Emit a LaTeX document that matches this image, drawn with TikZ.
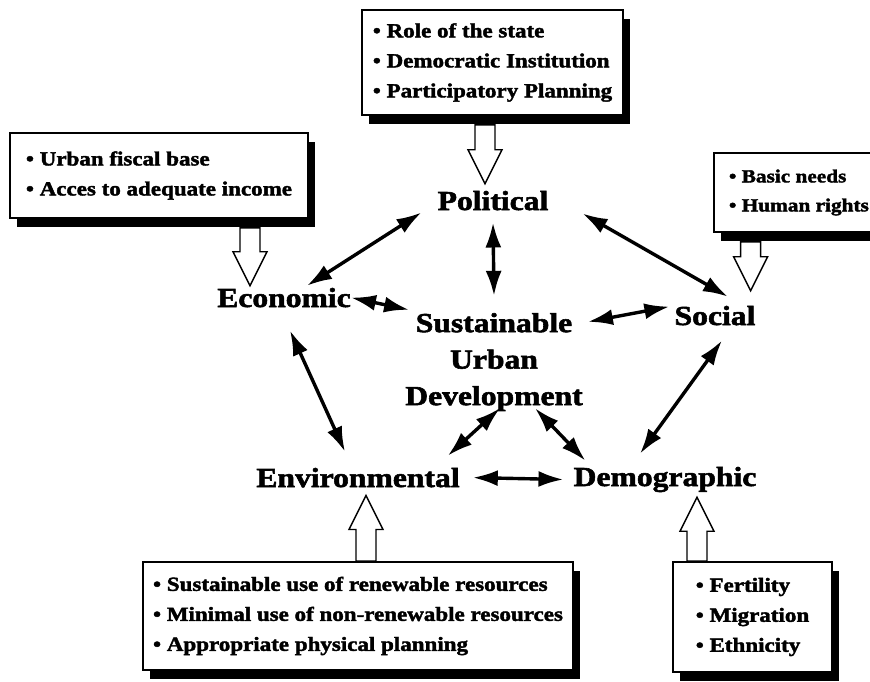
\documentclass[tikz,border=0pt]{standalone}
\usepackage{fontspec}
\setmainfont[FakeStretch=1.15, BoldFeatures={FakeBold=2}]{Liberation Serif}
\usetikzlibrary{arrows.meta,calc,shadows}

% hollow block arrow: #1 = edge of a box (only its y is used), #2 = tip
\newcommand\blockarrow[2]{%
  \draw[block] let \p1=(#1), \p2=(#2), \n1={ifthenelse(\y1>\y2,34,-34)} in
    (\x2-10pt,\y1) -- (\x2-10pt,{\y2+\n1*1pt}) -- (\x2-17pt,{\y2+\n1*1pt}) -- (\p2)
    -- (\x2+17pt,{\y2+\n1*1pt}) -- (\x2+10pt,{\y2+\n1*1pt}) -- (\x2+10pt,\y1) -- cycle;}

\begin{document}
\begin{tikzpicture}[x=1pt,y=-1pt,
  lbl/.style={inner sep=0pt, font=\bfseries\fontsize{27.5}{36.5}\selectfont},
  box/.style={draw, line width=1.8pt, fill=white, align=left, inner sep=4pt,
    font=\bfseries\fontsize{20}{30}\selectfont,
    drop shadow={shadow xshift=7pt, shadow yshift=-9pt, fill=black, opacity=1}},
  dbl/.style={line width=3.4pt, {Latex[length=25pt,width=16pt]}-{Latex[length=25pt,width=16pt]}},
  block/.style={line width=1.4pt, fill=white, line join=miter}]
\useasboundingbox[fill=white] (0,0) rectangle (870,681);

% the five dimensions round the centre
\node[lbl, anchor=base] (pol) at (493,210) {Political};
\node[lbl, anchor=base] (eco) at (284,307) {Economic};
\node[lbl, anchor=base] (soc) at (715,325) {Social};
\node[lbl, align=center] (sud) at (494,362) {Sustainable\\Urban\\Development};
\node[lbl, anchor=base] (env) at (358,487) {Environmental};
\node[lbl, anchor=base] (dem) at (665,486) {Demographic};

% boxes of issues
\node[box, minimum width=261pt, minimum height=105pt] (polbox) at (492.5,62.5)
  {\textbullet\ Role of the state\\ \textbullet\ Democratic Institution\\ \textbullet\ Participatory Planning};
\node[box, minimum width=298pt, minimum height=85pt] (ecobox) at (159,175.5)
  {\textbullet\ Urban fiscal base\\ \textbullet\ Acces to adequate income};
\node[box, minimum width=170pt, minimum height=79pt, anchor=west, font=\bfseries\fontsize{18.5}{29}\selectfont]
  (socbox) at (713,192.5) {\textbullet\ Basic needs\\ \textbullet\ Human rights};
\node[box, minimum width=430pt, minimum height=108pt] (envbox) at (358,616)
  {\textbullet\ Sustainable use of renewable resources\\ \textbullet\ Minimal use of non-renewable resources\\ \textbullet\ Appropriate physical planning};
\node[box, minimum width=159pt, minimum height=110pt] (dembox) at (752.5,617)
  {\textbullet\ Fertility\\ \textbullet\ Migration\\ \textbullet\ Ethnicity};

\blockarrow{[yshift=-9pt]polbox.south}{[shift={(-8pt,7pt)}]pol.north}
\blockarrow{[yshift=-9pt]ecobox.south}{[shift={(-34pt,2pt)}]eco.north}
\blockarrow{[yshift=-9pt]socbox.south}{[shift={(-5pt,15pt)}]soc.north east}
\blockarrow{envbox.north}{[shift={(8pt,-8pt)}]env.south}
\blockarrow{dembox.north}{[shift={(32pt,-5pt)}]dem.south}

% links
\draw[dbl] ([shift={(23pt,2pt)}]eco.north) -- ([shift={(-16pt,-2pt)}]pol.south west);
\draw[dbl] ([yshift=-12pt]pol.south) -- ([yshift=17pt]sud.north);
\draw[dbl] ([shift={(34pt,-3pt)}]pol.south east) -- ([shift={(13pt,9pt)}]soc.north);
\draw[dbl] (eco.east) -- ([shift={(4pt,3pt)}]sud.north west);
\draw[dbl] ([shift={(5pt,-9pt)}]sud.north east) -- ([shift={(-5pt,9pt)}]soc.west);
\draw[dbl] ([shift={(6pt,-23pt)}]eco.south) -- ([shift={(-13pt,16pt)}]env.north);
\draw[dbl] ([shift={(7pt,-15pt)}]soc.south) -- ([shift={(-25pt,13pt)}]dem.north);
\draw[dbl] ([shift={(6pt,3pt)}]sud.south) -- ([shift={(-12pt,12pt)}]env.north east);
\draw[dbl] ([shift={(41pt,3pt)}]sud.south) -- ([shift={(12pt,6pt)}]dem.north west);
\draw[dbl] ([xshift=13pt]env.east) -- ([xshift=-10pt]dem.west);
\end{tikzpicture}
\end{document}
